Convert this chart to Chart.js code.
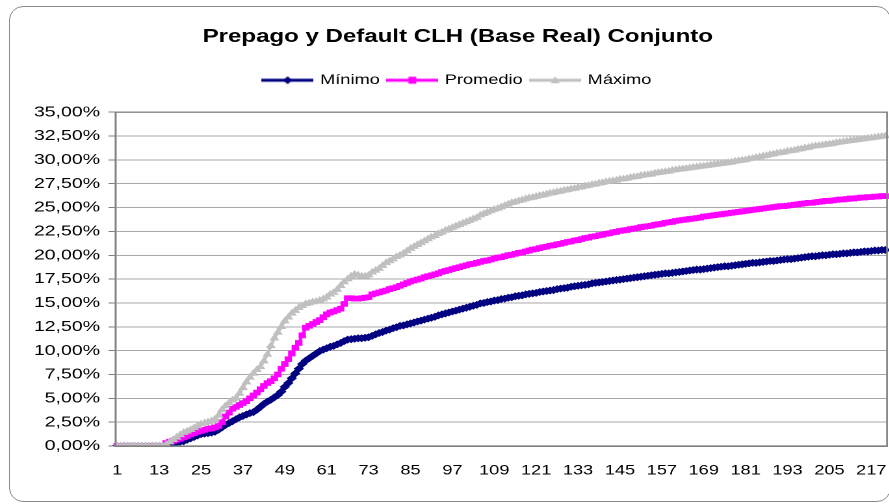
<!DOCTYPE html>
<html>
<head>
<meta charset="utf-8">
<script src="https://cdn.jsdelivr.net/npm/chart.js@4"></script>
<style>
  html, body { margin: 0; padding: 0; background: #fff; overflow: hidden; }
  #frame {
    position: absolute; left: 9px; top: 6px; width: 880px; height: 494px;
    border: 1.5px solid #8a8a8a; border-radius: 14px;
  }
  /* the reference is a horizontally stretched Excel chart, so draw at 700px and stretch by 1.3 */
  #wrap {
    position: absolute; left: 0; top: 0; width: 700px; height: 504px;
    transform: scaleX(1.3); transform-origin: 0 0;
  }
</style>
</head>
<body>
<div id="frame"></div>
<div id="wrap"><canvas id="clhChart"></canvas></div>
<script>
// periods 1..221 on the category axis, labelled every 12
const periods = Array.from({ length: 221 }, (_, i) => String(i + 1));
const xTickLabels = ['1', '13', '25', '37', '49', '61', '73', '85', '97', '109',
  '121', '133', '145', '157', '169', '181', '193', '205', '217'];

// cumulative rate, in %
const minimo = [
  0, 0, 0, 0, 0, 0, 0, 0, 0, 0,
  0, 0, 0, 0, 0.05, 0.15, 0.25, 0.35, 0.45, 0.5,
  0.65, 0.8, 0.95, 1.1, 1.25, 1.3, 1.35, 1.4, 1.5, 1.7,
  1.95, 2.2, 2.4, 2.6, 2.8, 3.0, 3.15, 3.3, 3.45, 3.55,
  3.8, 4.1, 4.4, 4.65, 4.85, 5.1, 5.35, 5.7, 6.2, 6.6,
  7.1, 7.6, 8.1, 8.6, 8.95, 9.2, 9.45, 9.7, 9.95, 10.1,
  10.25, 10.4, 10.5, 10.65, 10.8, 11.0, 11.15, 11.2, 11.25, 11.3,
  11.3, 11.35, 11.4, 11.55, 11.7, 11.85, 11.95, 12.1, 12.2, 12.35,
  12.45, 12.6, 12.65, 12.75, 12.85, 12.95, 13.05, 13.15, 13.25, 13.35,
  13.45, 13.55, 13.7, 13.8, 13.9, 14.0, 14.1, 14.2, 14.3, 14.4,
  14.5, 14.6, 14.7, 14.8, 14.95, 15.0, 15.1, 15.15, 15.25, 15.3,
  15.4, 15.45, 15.55, 15.6, 15.7, 15.75, 15.8, 15.9, 15.95, 16.0,
  16.05, 16.15, 16.2, 16.25, 16.3, 16.35, 16.45, 16.5, 16.55, 16.6,
  16.7, 16.75, 16.8, 16.85, 16.9, 16.95, 17.05, 17.1, 17.15, 17.2,
  17.25, 17.3, 17.35, 17.4, 17.45, 17.5, 17.55, 17.6, 17.65, 17.7,
  17.75, 17.8, 17.85, 17.9, 17.95, 18.0, 18.05, 18.1, 18.1, 18.15,
  18.2, 18.25, 18.3, 18.35, 18.4, 18.45, 18.5, 18.5, 18.55, 18.6,
  18.65, 18.7, 18.75, 18.8, 18.85, 18.85, 18.9, 18.95, 19.0, 19.05,
  19.1, 19.15, 19.2, 19.2, 19.25, 19.3, 19.35, 19.4, 19.4, 19.45,
  19.5, 19.55, 19.6, 19.6, 19.65, 19.7, 19.75, 19.8, 19.85, 19.9,
  19.9, 19.95, 20.0, 20.0, 20.05, 20.1, 20.1, 20.15, 20.2, 20.2,
  20.25, 20.3, 20.3, 20.35, 20.4, 20.4, 20.45, 20.5, 20.5, 20.55,
  20.55
];
const promedio = [
  0, 0, 0, 0, 0, 0, 0, 0, 0, 0,
  0, 0, 0, 0, 0.3, 0.45, 0.55, 0.65, 0.75, 0.9,
  1.05, 1.2, 1.35, 1.5, 1.6, 1.7, 1.8, 1.85, 1.95, 2.1,
  2.5, 3.1, 3.5, 3.9, 4.1, 4.3, 4.5, 4.7, 5.0, 5.3,
  5.6, 5.95, 6.3, 6.6, 6.8, 7.1, 7.5, 8.1, 8.6, 9.1,
  9.7, 10.3, 10.8, 11.6, 12.4, 12.6, 12.8, 13.0, 13.2, 13.5,
  13.8, 14.0, 14.1, 14.25, 14.4, 14.9, 15.5, 15.5, 15.45, 15.45,
  15.5, 15.55, 15.6, 15.9, 16.0, 16.1, 16.2, 16.3, 16.45, 16.55,
  16.65, 16.8, 16.95, 17.1, 17.25, 17.35, 17.45, 17.55, 17.7, 17.8,
  17.9, 18.0, 18.1, 18.25, 18.35, 18.45, 18.55, 18.65, 18.75, 18.85,
  18.95, 19.05, 19.1, 19.2, 19.3, 19.4, 19.45, 19.55, 19.65, 19.75,
  19.8, 19.9, 20.0, 20.05, 20.15, 20.25, 20.3, 20.4, 20.5, 20.6,
  20.65, 20.75, 20.85, 20.9, 21.0, 21.05, 21.15, 21.2, 21.3, 21.4,
  21.45, 21.55, 21.6, 21.7, 21.8, 21.85, 21.95, 22.0, 22.1, 22.15,
  22.25, 22.3, 22.4, 22.45, 22.55, 22.6, 22.65, 22.75, 22.8, 22.85,
  22.95, 23.0, 23.05, 23.1, 23.2, 23.25, 23.3, 23.4, 23.45, 23.5,
  23.6, 23.65, 23.7, 23.75, 23.8, 23.85, 23.9, 23.95, 24.05, 24.1,
  24.15, 24.2, 24.25, 24.3, 24.35, 24.4, 24.45, 24.5, 24.55, 24.6,
  24.65, 24.7, 24.75, 24.8, 24.85, 24.9, 24.95, 25.0, 25.05, 25.1,
  25.15, 25.15, 25.2, 25.25, 25.3, 25.35, 25.4, 25.45, 25.5, 25.5,
  25.55, 25.6, 25.65, 25.7, 25.7, 25.75, 25.8, 25.85, 25.85, 25.9,
  25.95, 25.95, 26.0, 26.05, 26.05, 26.1, 26.1, 26.15, 26.15, 26.2,
  26.2
];
const maximo = [
  0, 0, 0, 0, 0, 0, 0, 0, 0, 0,
  0, 0, 0, 0, 0.15, 0.4, 0.65, 0.9, 1.15, 1.4,
  1.55, 1.7, 1.9, 2.1, 2.3, 2.4, 2.5, 2.6, 2.8, 3.2,
  3.8, 4.2, 4.5, 4.8, 5.0, 5.5, 6.1, 6.7, 7.2, 7.6,
  8.0, 8.3, 8.9, 9.6, 10.5, 11.3, 11.9, 12.5, 13.1, 13.5,
  13.9, 14.2, 14.5, 14.7, 14.9, 15.0, 15.1, 15.15, 15.25, 15.4,
  15.6, 15.9, 16.1, 16.4, 16.8, 17.2, 17.5, 17.8, 18.0, 17.9,
  17.8, 17.8, 17.9, 18.2, 18.4, 18.6, 18.9, 19.2, 19.4, 19.6,
  19.85, 20.0, 20.2, 20.45, 20.7, 20.9, 21.1, 21.3, 21.5, 21.7,
  21.9, 22.05, 22.25, 22.4, 22.6, 22.75, 22.9, 23.05, 23.2, 23.35,
  23.5, 23.65, 23.8, 23.95, 24.2, 24.35, 24.5, 24.65, 24.8, 24.9,
  25.05, 25.2, 25.35, 25.5, 25.6, 25.7, 25.8, 25.9, 26.0, 26.05,
  26.15, 26.25, 26.3, 26.4, 26.5, 26.55, 26.65, 26.7, 26.8, 26.85,
  26.95, 27.0, 27.1, 27.15, 27.25, 27.3, 27.4, 27.45, 27.55, 27.6,
  27.7, 27.75, 27.8, 27.85, 27.95, 28.0, 28.05, 28.15, 28.2, 28.25,
  28.35, 28.4, 28.45, 28.5, 28.6, 28.65, 28.7, 28.75, 28.8, 28.9,
  28.95, 29.0, 29.05, 29.1, 29.15, 29.2, 29.25, 29.3, 29.35, 29.4,
  29.45, 29.5, 29.55, 29.6, 29.65, 29.7, 29.75, 29.85, 29.9, 29.95,
  30.0, 30.1, 30.15, 30.25, 30.3, 30.4, 30.45, 30.55, 30.6, 30.7,
  30.75, 30.8, 30.9, 30.95, 31.0, 31.1, 31.15, 31.25, 31.3, 31.4,
  31.45, 31.5, 31.55, 31.6, 31.65, 31.7, 31.8, 31.85, 31.9, 31.95,
  32.0, 32.05, 32.1, 32.15, 32.2, 32.25, 32.3, 32.35, 32.4, 32.45,
  32.5
];

const FONT = "'Liberation Sans', Arial, sans-serif";

// little "line + marker" swatches for the legend, Excel style
function legendIcon(color, shape) {
  const c = document.createElement('canvas');
  c.width = 40; c.height = 12;
  const g = c.getContext('2d');
  g.strokeStyle = color; g.fillStyle = color; g.lineWidth = 3;
  g.beginPath(); g.moveTo(0, 6); g.lineTo(40, 6); g.stroke();
  g.beginPath();
  if (shape === 'diamond') {
    g.moveTo(20, 2); g.lineTo(23.5, 6); g.lineTo(20, 10); g.lineTo(16.5, 6);
  } else if (shape === 'square') {
    g.rect(17, 2.5, 6, 7);
  } else {
    g.moveTo(20, 2); g.lineTo(23.5, 9); g.lineTo(16.5, 9);
  }
  g.closePath(); g.fill();
  return c;
}
const legendIcons = [
  legendIcon('#000080', 'diamond'),
  legendIcon('#FF00FF', 'square'),
  legendIcon('#C0C0C0', 'triangle')
];

// empty band between legend and plot area
const legendGap = {
  id: 'legendGap',
  beforeInit(chart) {
    Chart.layouts.addBox(chart, {
      position: 'top', weight: 100, fullSize: true, options: {},
      left: 0, top: 0, right: 0, bottom: 0, width: 0, height: 0,
      update(maxWidth) { this.width = maxWidth; this.height = 15; },
      isHorizontal() { return true; },
      draw() {}
    });
  }
};

// plot-area frame (top and right sides)
const plotFrame = {
  id: 'plotFrame',
  afterDatasetsDraw(chart) {
    const a = chart.chartArea, ctx = chart.ctx;
    ctx.save();
    ctx.strokeStyle = '#808080';
    ctx.lineWidth = 1.3;
    ctx.strokeRect(a.left, a.top, a.right - a.left, a.bottom - a.top);
    ctx.restore();
  }
};

const ctx = document.getElementById('clhChart').getContext('2d');
new Chart(ctx, {
  type: 'line',
  data: {
    labels: periods,
    datasets: [{
      label: 'Mínimo',
      data: minimo,
      borderColor: '#000080',
      backgroundColor: '#000080',
      pointStyle: 'rectRot',
      pointRadius: 3.3,
      order: 3
    }, {
      label: 'Promedio',
      data: promedio,
      borderColor: '#FF00FF',
      backgroundColor: '#FF00FF',
      pointStyle: 'rect',
      pointRadius: 3.3,
      order: 2
    }, {
      label: 'Máximo',
      data: maximo,
      borderColor: '#C0C0C0',
      backgroundColor: '#C0C0C0',
      pointStyle: 'triangle',
      pointRadius: 3.5,
      order: 1
    }]
  },
  options: {
    responsive: true,
    maintainAspectRatio: false,
    animation: false,
    devicePixelRatio: 2,
    layout: { padding: { left: 22, right: 17.7, top: 0, bottom: 0 } },
    elements: {
      line: { borderWidth: 2.5, tension: 0 },
      point: { borderWidth: 1, hoverRadius: 3 }
    },
    plugins: {
      title: {
        display: true,
        text: 'Prepago y Default CLH (Base Real) Conjunto',
        color: '#000',
        font: { family: FONT, size: 18.5, weight: 'bold' },
        padding: { top: 26, bottom: 18 }
      },
      legend: {
        display: true,
        labels: {
          color: '#000',
          font: { family: FONT, size: 14 },
          usePointStyle: true,
          pointStyleWidth: 36,
          boxHeight: 12,
          padding: 7,
          generateLabels(chart) {
            const items = Chart.defaults.plugins.legend.labels.generateLabels(chart);
            items.sort((a, b) => a.datasetIndex - b.datasetIndex);
            items.forEach(it => { it.pointStyle = legendIcons[it.datasetIndex]; });
            return items;
          }
        }
      },
      tooltip: { enabled: false }
    },
    scales: {
      x: {
        type: 'category',
        offset: true,
        grid: { display: false, drawTicks: false },
        border: { color: '#808080', width: 1.5 },
        ticks: {
          autoSkip: false,
          maxRotation: 0,
          padding: 16,
          color: '#000',
          font: { family: FONT, size: 14 },
          callback(value) {
            const lab = this.getLabelForValue(value);
            return xTickLabels.includes(lab) ? lab : '';
          }
        },
        afterFit(scale) { scale.height = 58; }
      },
      y: {
        min: 0,
        max: 35,
        grid: { color: '#a8a8a8', tickColor: '#808080', tickLength: 5.4, lineWidth: 1 },
        border: { color: '#808080', width: 1.2 },
        ticks: {
          stepSize: 2.5,
          padding: 6.5,
          color: '#000',
          font: { family: FONT, size: 15 },
          callback: v => v.toFixed(2).replace('.', ',') + '%'
        },
        afterFit(scale) { scale.width = 66.85; }
      }
    }
  },
  plugins: [legendGap, plotFrame]
});
</script>
</body>
</html>
